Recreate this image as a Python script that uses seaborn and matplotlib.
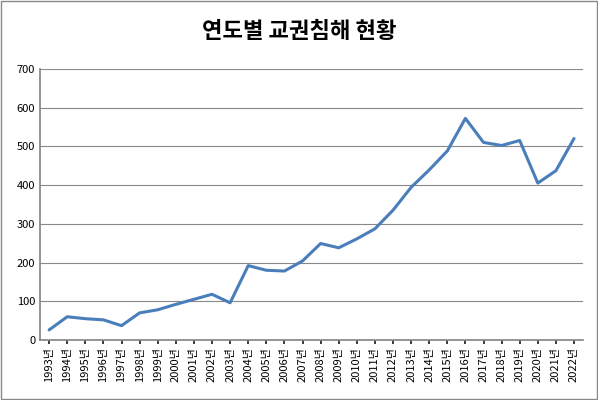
import matplotlib
matplotlib.use("Agg")
import matplotlib.pyplot as plt
import seaborn as sns
import pandas as pd

years = list(range(1993, 2023))
labels = [f"{y}년" for y in years]
values = [26, 60, 55, 52, 37, 70, 78, 92, 105, 118, 96, 192, 180, 178, 204, 249, 238, 261, 287, 335, 394, 439, 488, 572, 510, 502, 515, 405, 437, 520]

sns.set_theme(style="white")
plt.rcParams['font.family'] = ['Noto Sans CJK KR', 'DejaVu Sans']

df = pd.DataFrame({"x": range(len(years)), "v": values})
fig = plt.figure(figsize=(5.98, 4.0), dpi=100)
ax = fig.add_axes([0.067, 0.15, 0.908, 0.678])
sns.lineplot(data=df, x="x", y="v", ax=ax, color="#4a7ebb", linewidth=2.2)
ax.set_ylim(0, 700)
ax.set_yticks(range(0, 701, 100))
ax.set_xlim(-0.5, len(years) - 0.5)
ax.set_xticks(range(len(years)))
ax.set_xticklabels(labels, rotation=90, fontsize=8, color='black')
ax.tick_params(axis='y', labelsize=8, length=0, labelcolor='black')
ax.tick_params(axis='x', length=3, bottom=True, pad=2)
ax.set_xlabel(""); ax.set_ylabel("")
ax.grid(axis='y', color='#888888', linewidth=0.8)
for s in ['top', 'right']:
    ax.spines[s].set_visible(False)
ax.spines['left'].set_color('#888888')
ax.spines['bottom'].set_color('#888888')
fig.suptitle("연도별 교권침해 현황", fontsize=16, fontweight='bold', y=0.95, color='black')
fig.patches.append(plt.Rectangle((0.002, 0.002), 0.996, 0.996, transform=fig.transFigure, fill=False, edgecolor='#888888', linewidth=1))
fig.savefig("out.png", dpi=100)
